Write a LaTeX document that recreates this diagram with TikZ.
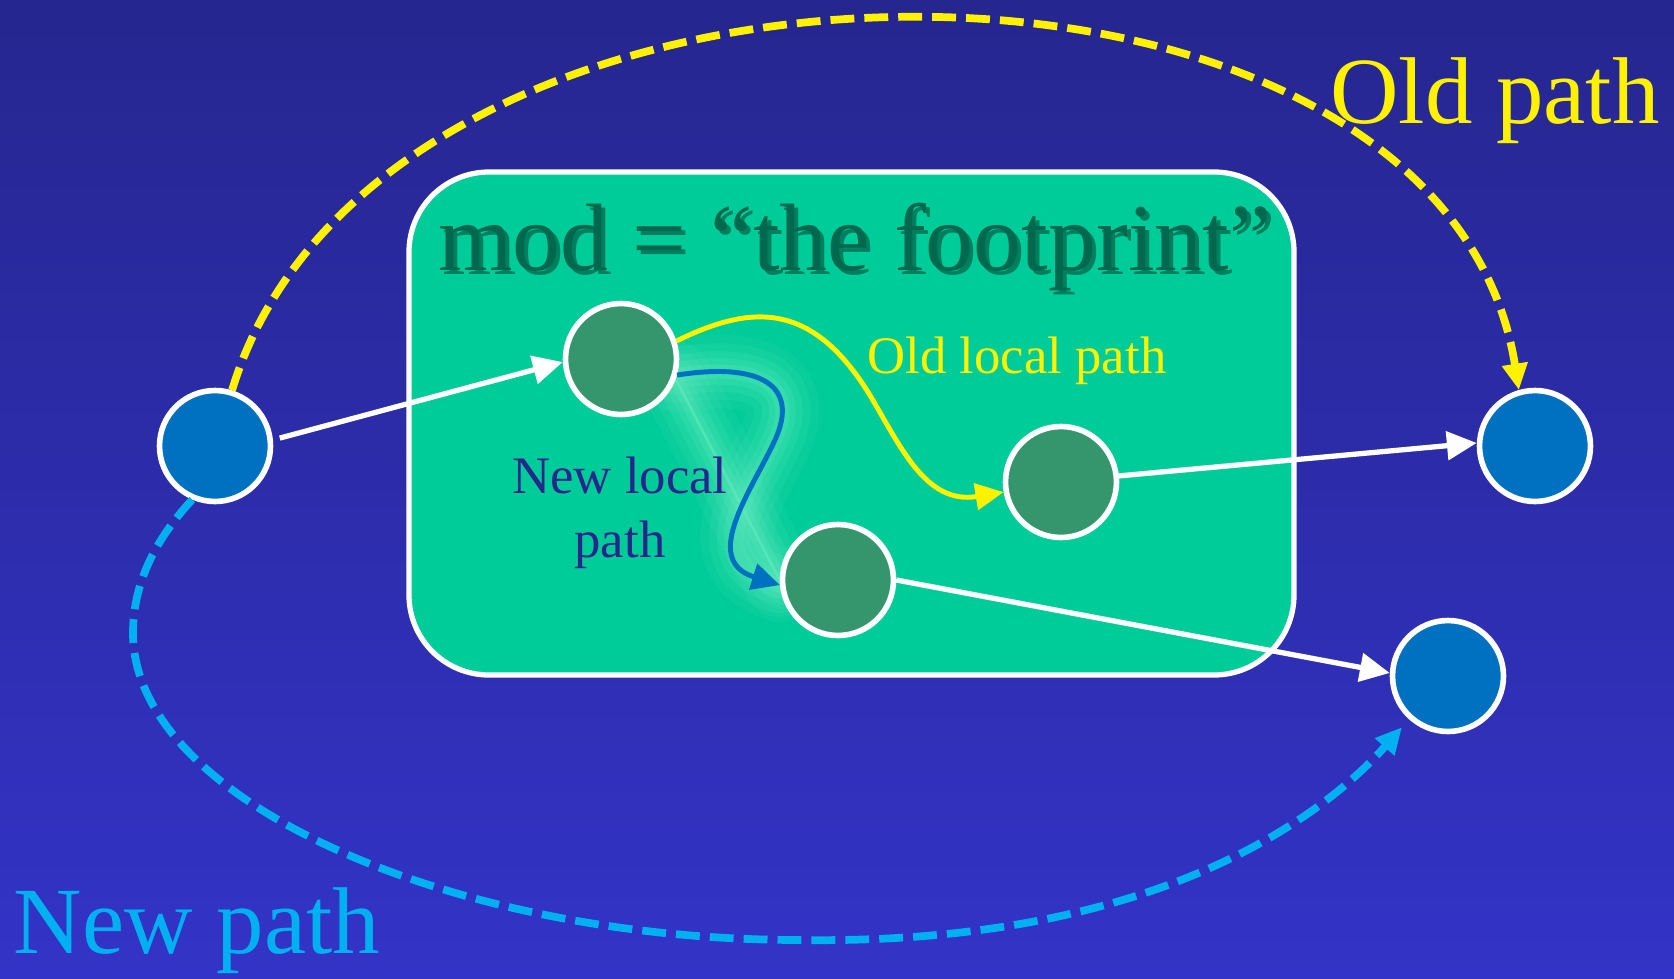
\documentclass[tikz,border=0pt]{standalone}
\usepackage{fontspec}
\setmainfont{Liberation Serif}
\usetikzlibrary{arrows.meta}
\definecolor{bgtop}{RGB}{38,38,144}
\definecolor{bgbot}{RGB}{51,51,199}
\definecolor{boxgreen}{RGB}{0,204,153}
\definecolor{hopgreen}{RGB}{53,150,110}
\definecolor{endblue}{RGB}{0,112,192}
\definecolor{titlegreen}{RGB}{0,104,78}
\definecolor{shadowgreen}{RGB}{0,64,48}
\definecolor{newcyan}{RGB}{0,176,240}
\definecolor{localblue}{RGB}{38,38,140}
\definecolor{glowgreen}{RGB}{100,235,190}
\pgfdeclarelayer{back}
\pgfdeclarelayer{glow}
\pgfsetlayers{back,glow,main}

\begin{document}
\begin{tikzpicture}[x=0.02cm, y=-0.02cm,
    endpt/.style={circle, draw=white, line width=3.2pt, fill=endblue, minimum size=2.22cm, inner sep=0pt},
    hop/.style={endpt, fill=hopgreen},
    wire/.style={draw=white, line width=3pt, -{Triangle[length=17pt,width=16pt]}},
    longpath/.style={line width=4.4pt, dash pattern=on 13.6pt off 5.7pt, -{Triangle[length=15pt,width=14pt]}},
    localpath/.style={line width=2.8pt, -{Triangle[length=16pt,width=15pt]}},
    glowline/.style={draw=glowgreen, line cap=round},
    bigtext/.style={anchor=base, font=\fontsize{54}{60}\selectfont},
    smalltext/.style={font=\fontsize{30}{36.3}\selectfont}]

    % background and the footprint box
    \begin{pgfonlayer}{back}
        \shade[top color=bgtop, bottom color=bgbot] (0,0) rectangle (1674,978);
        \draw[white, line width=3pt, fill=boxgreen, rounded corners=1.6cm] (409,172) rectangle (1294,675);
    \end{pgfonlayer}
    \useasboundingbox (0,0) rectangle (1674,978);

    % routers
    \node[endpt] (src) at (215,446) {};
    \node[endpt] (oldend) at (1535,446) {};
    \node[endpt] (newend) at (1448,676) {};
    \node[hop] (hopA) at (621,359) {};
    \node[hop] (hopB) at (1061,482) {};
    \node[hop] (hopC) at (838,580) {};

    % labels
    \node[bigtext, shadowgreen, opacity=0.55, font=\fontsize{54.5}{60}\selectfont] (titleshadow) at (859,274) {mod = “the footprint”};
    \node[bigtext, titlegreen, font=\fontsize{54.5}{60}\selectfont] (title) at (855,270) {mod = “the footprint”};
    \node[bigtext, yellow] (oldlbl) at (1495,123) {Old path};
    \node[bigtext, newcyan] (newlbl) at (197,953) {New path};
    \node[smalltext, yellow, anchor=base] (oldlocal) at (1017,373) {Old local path};
    \node[smalltext, localblue, align=center, inner sep=0pt] (newlocal) at (620,513) {New local\\path};

    % glow round the new local path
    \begin{pgfonlayer}{glow}
        \foreach \gw/\go in {42pt/0.09, 32pt/0.11, 23pt/0.14, 15pt/0.18, 8pt/0.22} {
            \draw[glowline, line width=\gw, opacity=\go] (hopA.-16) .. controls (760,362) and (800,385) .. (775,440)
                .. controls (752,490) and (700,560) .. (hopC.185);
            \draw[glowline, line width=\gw, opacity=\go] (hopA.-20) -- (hopC.180);
        }
        \draw[glowgreen, line width=1.5pt, opacity=0.6] (hopA.-20) -- (hopC.180);
    \end{pgfonlayer}

    % connectors
    \draw[wire, shorten <=4pt] (src.6) -- (hopA.183);
    \draw[wire] (hopB.6) -- (oldend.177);
    \draw[wire] (hopC.0) -- (newend.177);

    \draw[longpath, yellow] (src.73) .. controls (380,-100) and (1440,-107) .. (oldend.106);
    \draw[longpath, newcyan, shorten >=6pt] (src.247) .. controls (150,545) and (133,590) .. (133,633)
        .. controls (133,800) and (450,940) .. (800,940)
        .. controls (1150,945) and (1320,820) .. (newend.228);

    \draw[localpath, yellow] (hopA.18) .. controls (750,305) and (810,300) .. (868,392)
        .. controls (900,445) and (925,505) .. (hopB.190);
    \draw[localpath, endblue] (hopA.-16) .. controls (760,362) and (800,385) .. (775,440)
        .. controls (752,490) and (700,560) .. (hopC.185);
\end{tikzpicture}
\end{document}
